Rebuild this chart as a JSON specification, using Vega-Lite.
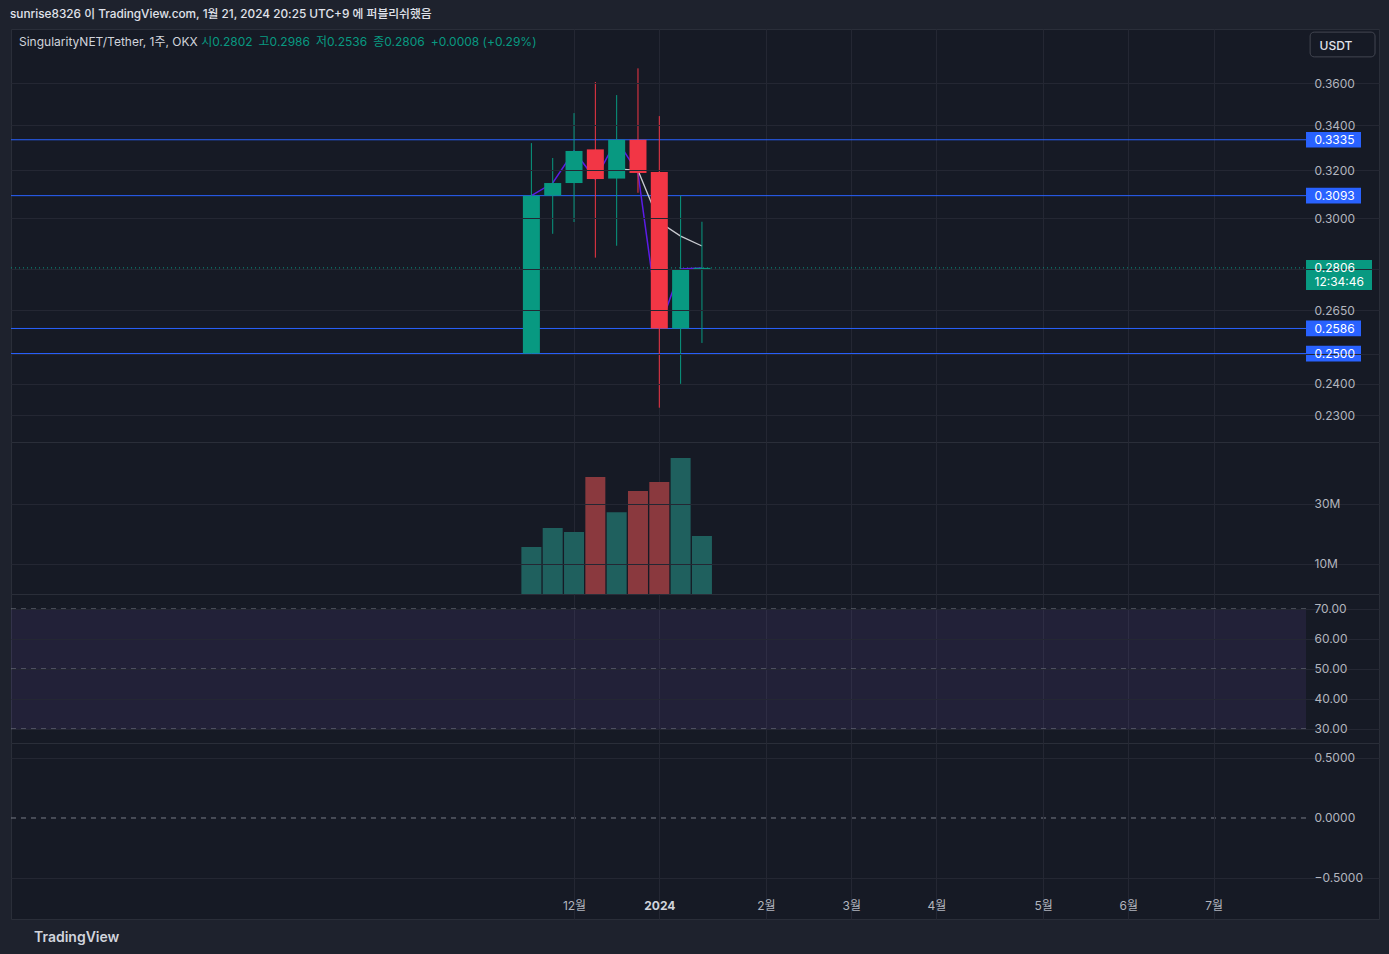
{
  "$schema": "https://vega.github.io/schema/vega-lite/v6.json",
  "background": "#1e222d",
  "padding": {"left": 10, "right": 11, "top": 8, "bottom": 14},
  "spacing": 0,
  "bounds": "flush",
  "title": {
    "text": "sunrise8326 이 TradingView.com, 1월 21, 2024 20:25 UTC+9 에 퍼블리쉬했음",
    "anchor": "start", "frame": "bounds", "offset": 8,
    "fontSize": 11.8, "fontWeight": 500, "color": "#e0e3eb"
  },
  "config": {
    "font": "Inter, 'Noto Sans CJK KR', sans-serif",
    "view": {"stroke": "#2a2e39", "fill": "#161a25", "strokeWidth": 1},
    "axis": {"gridColor": "#242733", "labelColor": "#b2b5be", "labelFontSize": 12, "domain": false, "ticks": false, "tickSize": 0, "labelOverlap": false}
  },
  "datasets": {
    "candles": [
      {"date": "2023-11-20", "open": 0.2500, "high": 0.3320, "low": 0.2500, "close": 0.3093, "volume": 15600000},
      {"date": "2023-11-27", "open": 0.3093, "high": 0.3254, "low": 0.2938, "close": 0.3146, "volume": 21900000},
      {"date": "2023-12-04", "open": 0.3146, "high": 0.3457, "low": 0.2985, "close": 0.3285, "volume": 20600000},
      {"date": "2023-12-11", "open": 0.3292, "high": 0.3605, "low": 0.2845, "close": 0.3163, "volume": 38900000},
      {"date": "2023-12-18", "open": 0.3165, "high": 0.3542, "low": 0.2891, "close": 0.3335, "volume": 27200000},
      {"date": "2023-12-25", "open": 0.3335, "high": 0.3672, "low": 0.3105, "close": 0.3189, "volume": 34200000},
      {"date": "2024-01-01", "open": 0.3193, "high": 0.3443, "low": 0.2324, "close": 0.2586, "volume": 37200000},
      {"date": "2024-01-08", "open": 0.2586, "high": 0.3093, "low": 0.2400, "close": 0.2802, "volume": 45200000},
      {"date": "2024-01-15", "open": 0.2802, "high": 0.2986, "low": 0.2536, "close": 0.2806, "volume": 19300000}
    ],
    "ma": [
      {"date": "2023-12-18", "ma": 0.3206},
      {"date": "2023-12-25", "ma": 0.3200},
      {"date": "2024-01-01", "ma": 0.2985},
      {"date": "2024-01-08", "ma": 0.2929},
      {"date": "2024-01-15", "ma": 0.2890}
    ],
    "levels": [{"price": 0.3335}, {"price": 0.3093}, {"price": 0.2586}, {"price": 0.2500}],
    "last": [{"price": 0.2806}],
    "currency": [{"price": 0.3792}],
    "rsiBand": [{"lo": 30, "hi": 70}],
    "rsiLevels": [{"v": 70}, {"v": 50}, {"v": 30}],
    "oscLevels": [{"v": 0}]
  },
  "vconcat": [
    {
      "width": 1368, "height": 413,
      "title": {
        "text": "SingularityNET/Tether, 1주, OKX",
        "subtitle": "\u200b\u2003\u2003\u2003\u2003\u2003\u2003\u2003\u2003\u2003\u2003\u2003\u2003\u2003\u2003\u2003\u2009시0.2802\u2002고0.2986\u2002저0.2536\u2002종0.2806\u2002+0.0008 (+0.29%)",
        "anchor": "start", "frame": "group", "orient": "top", "offset": -20, "dx": 8,
        "fontSize": 12, "fontWeight": "normal", "color": "#d1d4dc",
        "subtitleColor": "#089981", "subtitleFontSize": 12, "subtitlePadding": -12
      },
      "layer": [
        {
          "data": {"name": "levels"},
          "mark": {"type": "rule", "color": "#2962ff", "strokeWidth": 1},
          "encoding": {
            "x": {"datum": {"year": 2023, "month": 6, "date": 2, "hours": 3, "minutes": 22, "utc": true}, "type": "temporal",
              "scale": {"type": "utc", "nice": false, "padding": 0, "domain": [{"year": 2023, "month": 6, "date": 2, "hours": 3, "minutes": 22, "utc": true}, {"year": 2024, "month": 8, "date": 24, "hours": 7, "minutes": 12, "utc": true}]},
              "axis": {"values": [{"year":2023,"month":12,"date":4,"utc":true},{"year":2024,"month":1,"date":1,"utc":true},{"year":2024,"month":2,"date":5,"utc":true},{"year":2024,"month":3,"date":4,"utc":true},{"year":2024,"month":4,"date":1,"utc":true},{"year":2024,"month":5,"date":6,"utc":true},{"year":2024,"month":6,"date":3,"utc":true},{"year":2024,"month":7,"date":1,"utc":true}],
                "labels": false, "ticks": false, "domain": false, "grid": true, "title": null}},
            "x2": {"datum": {"year": 2024, "month": 7, "date": 31, "hours": 8, "utc": true}},
            "y": {"field": "price", "type": "quantitative",
              "scale": {"type": "log", "domain": [0.2219, 0.3872], "nice": false, "zero": false},
              "axis": {
                "orient": "right", "offset": -73,
                "values": [0.23, 0.24, 0.25, 0.2586, 0.265, 0.28, 0.2806, 0.3, 0.3093, 0.32, 0.3335, 0.34, 0.36],
                "labelExpr": "datum.value == 0.28 ? '' : (datum.value == 0.2806 ? ['0.2806', '12:34:46'] : format(datum.value, '.4f'))",
                "labelAlign": "left", "labelBaseline": "middle", "labelPadding": 8, "labelOverlap": false,
                "labelColor": {"condition": {"test": "indexof([0.3335, 0.3093, 0.2806, 0.2586, 0.25], datum.value) >= 0", "value": "#ffffff"}, "value": "#b2b5be"},
                "grid": true,
                "gridOpacity": {"condition": {"test": "indexof([0.3335, 0.3093, 0.2806, 0.2586], datum.value) >= 0", "value": 0}, "value": 1},
                "zindex": 1,
                "title": "USDT", "titleAngle": 0, "titleAlign": "left", "titleBaseline": "middle",
                "titleX": 13, "titleY": 16, "titleColor": "#e0e3eb", "titleFontSize": 12, "titleFontWeight": 500
              }}
          }
        },
        {
          "data": {"name": "last"},
          "mark": {"type": "rule", "color": "#089981", "strokeWidth": 1, "strokeDash": [1, 3]},
          "encoding": {
            "x": {"datum": {"year": 2023, "month": 6, "date": 2, "hours": 3, "minutes": 22, "utc": true}, "type": "temporal"},
            "x2": {"datum": {"year": 2024, "month": 7, "date": 31, "hours": 8, "utc": true}},
            "y": {"field": "price", "type": "quantitative"}
          }
        },
        {
          "data": {"name": "candles"},
          "mark": {"type": "line", "color": "#5b1ce6", "strokeWidth": 1.5},
          "encoding": {
            "x": {"field": "date", "type": "temporal"},
            "y": {"field": "close", "type": "quantitative"}
          }
        },
        {
          "data": {"name": "ma"},
          "mark": {"type": "line", "color": "#c9cbd1", "strokeWidth": 1.3},
          "encoding": {
            "x": {"field": "date", "type": "temporal"},
            "y": {"field": "ma", "type": "quantitative"}
          }
        },
        {
          "data": {"name": "candles"},
          "mark": {"type": "rule", "strokeWidth": 1},
          "encoding": {
            "x": {"field": "date", "type": "temporal"},
            "y": {"field": "low", "type": "quantitative"},
            "y2": {"field": "high"},
            "color": {"condition": {"test": "datum.close >= datum.open", "value": "#089981"}, "value": "#f23645"}
          }
        },
        {
          "data": {"name": "candles"},
          "mark": {"type": "bar", "size": 17},
          "encoding": {
            "x": {"field": "date", "type": "temporal"},
            "y": {"field": "open", "type": "quantitative"},
            "y2": {"field": "close"},
            "color": {"condition": {"test": "datum.close >= datum.open", "value": "#089981"}, "value": "#f23645"}
          }
        },
        {
          "data": {"name": "levels"},
          "mark": {"type": "point", "shape": "M0,-0.285H2V0.285H0Z", "size": 3025, "filled": true, "opacity": 1, "color": "#2962ff", "strokeWidth": 0},
          "encoding": {
            "x": {"datum": {"year": 2024, "month": 7, "date": 31, "hours": 8, "utc": true}, "type": "temporal"},
            "y": {"field": "price", "type": "quantitative"}
          }
        },
        {
          "data": {"name": "last"},
          "mark": {"type": "point", "shape": "M0,-0.29H2.4V0.8H0Z", "size": 3025, "filled": true, "opacity": 1, "color": "#089981", "strokeWidth": 0},
          "encoding": {
            "x": {"datum": {"year": 2024, "month": 7, "date": 31, "hours": 8, "utc": true}, "type": "temporal"},
            "y": {"field": "price", "type": "quantitative"}
          }
        },
        {
          "data": {"name": "currency"},
          "mark": {"type": "point", "shape": "M0.3,-0.45H2.37A0.145,0.145,0,0,1,2.51,-0.31V0.31A0.145,0.145,0,0,1,2.37,0.45H0.3A0.145,0.145,0,0,1,0.15,0.31V-0.31A0.145,0.145,0,0,1,0.3,-0.45Z", "size": 3025, "filled": false, "opacity": 1, "color": "#434651", "strokeWidth": 1},
          "encoding": {
            "x": {"datum": {"year": 2024, "month": 7, "date": 31, "hours": 8, "utc": true}, "type": "temporal"},
            "y": {"field": "price", "type": "quantitative"}
          }
        }
      ]
    },
    {
      "width": 1368, "height": 152,
      "data": {"name": "candles"},
      "mark": {"type": "bar", "size": 20},
      "encoding": {
        "x": {"field": "date", "type": "temporal",
          "scale": {"type": "utc", "nice": false, "padding": 0, "domain": [{"year": 2023, "month": 6, "date": 2, "hours": 3, "minutes": 22, "utc": true}, {"year": 2024, "month": 8, "date": 24, "hours": 7, "minutes": 12, "utc": true}]},
          "axis": {"values": [{"year":2023,"month":12,"date":4,"utc":true},{"year":2024,"month":1,"date":1,"utc":true},{"year":2024,"month":2,"date":5,"utc":true},{"year":2024,"month":3,"date":4,"utc":true},{"year":2024,"month":4,"date":1,"utc":true},{"year":2024,"month":5,"date":6,"utc":true},{"year":2024,"month":6,"date":3,"utc":true},{"year":2024,"month":7,"date":1,"utc":true}],
            "labels": false, "ticks": false, "domain": false, "grid": true, "title": null}},
        "y": {"field": "volume", "type": "quantitative",
          "scale": {"domain": [0, 50500000], "nice": false, "zero": true},
          "axis": {"orient": "right", "offset": -73, "values": [10000000, 30000000],
            "labelExpr": "format(datum.value / 1000000, 'd') + 'M'",
            "labelAlign": "left", "labelBaseline": "middle", "labelPadding": 8, "grid": true, "zindex": 1, "title": null}},
        "color": {"condition": {"test": "datum.close >= datum.open", "value": "#1f605e"}, "value": "#8a393e"}
      }
    },
    {
      "width": 1368, "height": 149,
      "encoding": {
        "x": {"datum": {"year": 2023, "month": 6, "date": 2, "hours": 3, "minutes": 22, "utc": true}, "type": "temporal",
          "scale": {"type": "utc", "nice": false, "padding": 0, "domain": [{"year": 2023, "month": 6, "date": 2, "hours": 3, "minutes": 22, "utc": true}, {"year": 2024, "month": 8, "date": 24, "hours": 7, "minutes": 12, "utc": true}]},
          "axis": {"values": [{"year":2023,"month":12,"date":4,"utc":true},{"year":2024,"month":1,"date":1,"utc":true},{"year":2024,"month":2,"date":5,"utc":true},{"year":2024,"month":3,"date":4,"utc":true},{"year":2024,"month":4,"date":1,"utc":true},{"year":2024,"month":5,"date":6,"utc":true},{"year":2024,"month":6,"date":3,"utc":true},{"year":2024,"month":7,"date":1,"utc":true}],
            "labels": false, "ticks": false, "domain": false, "grid": true, "title": null}},
        "x2": {"datum": {"year": 2024, "month": 7, "date": 31, "hours": 8, "utc": true}}
      },
      "layer": [
        {
          "data": {"name": "rsiBand"},
          "mark": {"type": "rect", "color": "#7e57c2", "opacity": 0.12},
          "encoding": {
            "y": {"field": "lo", "type": "quantitative",
              "scale": {"domain": [25.333, 75], "nice": false, "zero": false},
              "axis": {"orient": "right", "offset": -73, "tickCount": 5,
                "labelExpr": "format(datum.value, '.2f')", "labelOverlap": false,
                "labelAlign": "left", "labelBaseline": "middle", "labelPadding": 8, "grid": true,
                "zindex": 1, "title": null}},
            "y2": {"field": "hi"}
          }
        },
        {
          "data": {"name": "rsiLevels"},
          "mark": {"type": "rule", "color": "#787b86", "strokeWidth": 1, "strokeDash": [5, 5]},
          "encoding": {
            "y": {"field": "v", "type": "quantitative"}
          }
        }
      ]
    },
    {
      "width": 1368, "height": 176,
      "title": {
        "text": "TradingView", "orient": "bottom", "anchor": "start", "frame": "group",
        "offset": 12, "dx": 23, "fontSize": 14, "fontWeight": 600, "color": "#d1d4dc"
      },
      "data": {"name": "oscLevels"},
      "mark": {"type": "rule", "color": "#787b86", "strokeWidth": 1, "strokeDash": [5, 5]},
      "encoding": {
        "x": {"datum": {"year": 2023, "month": 6, "date": 2, "hours": 3, "minutes": 22, "utc": true}, "type": "temporal",
          "scale": {"type": "utc", "nice": false, "padding": 0, "domain": [{"year": 2023, "month": 6, "date": 2, "hours": 3, "minutes": 22, "utc": true}, {"year": 2024, "month": 8, "date": 24, "hours": 7, "minutes": 12, "utc": true}]},
          "axis": {"values": [{"year":2023,"month":12,"date":4,"utc":true},{"year":2024,"month":1,"date":1,"utc":true},{"year":2024,"month":2,"date":5,"utc":true},{"year":2024,"month":3,"date":4,"utc":true},{"year":2024,"month":4,"date":1,"utc":true},{"year":2024,"month":5,"date":6,"utc":true},{"year":2024,"month":6,"date":3,"utc":true},{"year":2024,"month":7,"date":1,"utc":true}],
            "orient": "bottom", "offset": -25, "grid": true, "ticks": false, "domain": false,
            "labelPadding": 6, "labelBaseline": "top", "labelAlign": "center", "labelFlush": false, "labelOverlap": false,
            "labelExpr": "utcmonth(datum.value) == 0 ? utcFormat(datum.value, '%Y') : (utcmonth(datum.value) + 1) + '월'",
            "labelFontWeight": {"condition": {"test": "utcmonth(datum.value) == 0", "value": "bold"}, "value": "normal"},
            "labelColor": {"condition": {"test": "utcmonth(datum.value) == 0", "value": "#d1d4dc"}, "value": "#b2b5be"},
            "zindex": 1, "title": null}},
        "x2": {"datum": {"year": 2024, "month": 7, "date": 31, "hours": 8, "utc": true}},
        "y": {"field": "v", "type": "quantitative",
          "scale": {"domain": [-0.8417, 0.625], "nice": false, "zero": false},
          "axis": {"orient": "right", "offset": -73, "values": [-0.5, 0, 0.5],
            "labelExpr": "replace(format(datum.value, '.4f'), '-', '−')", "labelOverlap": false,
            "labelAlign": "left", "labelBaseline": "middle", "labelPadding": 8, "grid": true,
            "gridOpacity": {"condition": {"test": "datum.value == 0", "value": 0}, "value": 1},
            "zindex": 1, "title": null}}
      }
    }
  ]
}
